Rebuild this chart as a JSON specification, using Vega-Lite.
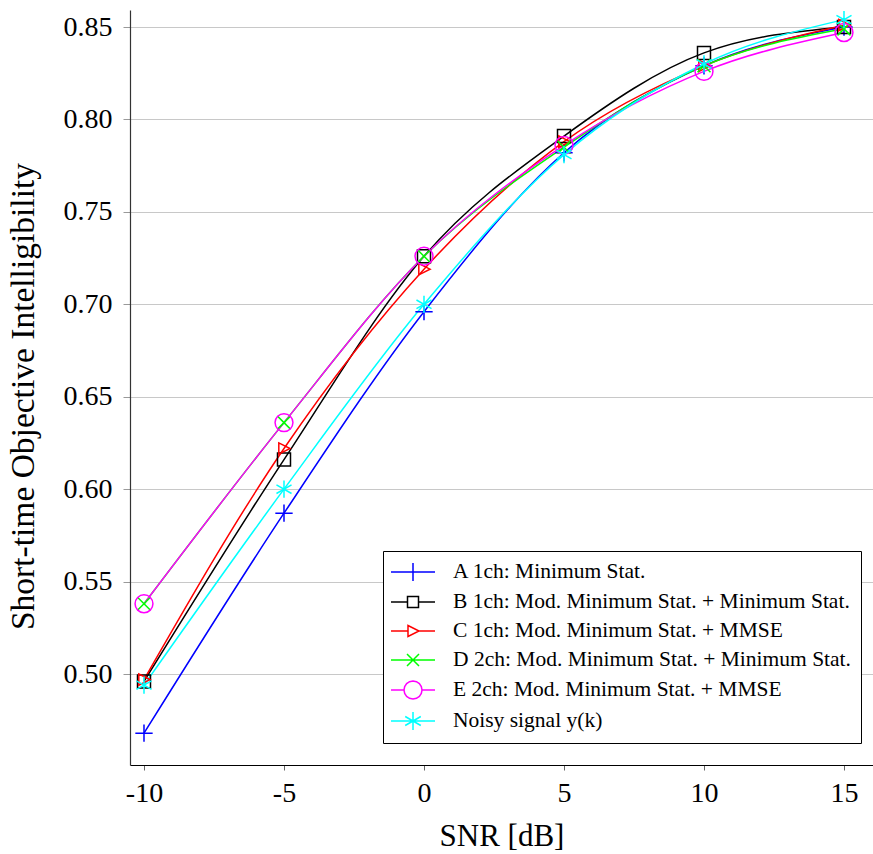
{
  "$schema": "https://vega.github.io/schema/vega-lite/v6.json",
  "width": 743,
  "height": 755,
  "autosize": "none",
  "padding": {"left": 130, "top": 10, "right": 0, "bottom": 89},
  "background": "white",
  "config": {
    "font": "Liberation Serif",
    "view": {"stroke": null}
  },
  "data": {
    "values": [
      {"snr": -10, "series": "A 1ch: Minimum Stat.", "stoi": 0.468},
      {"snr": -5, "series": "A 1ch: Minimum Stat.", "stoi": 0.587},
      {"snr": 0, "series": "A 1ch: Minimum Stat.", "stoi": 0.696},
      {"snr": 5, "series": "A 1ch: Minimum Stat.", "stoi": 0.782},
      {"snr": 10, "series": "A 1ch: Minimum Stat.", "stoi": 0.829},
      {"snr": 15, "series": "A 1ch: Minimum Stat.", "stoi": 0.850},
      {"snr": -10, "series": "B 1ch: Mod. Minimum Stat. + Minimum Stat.", "stoi": 0.496},
      {"snr": -5, "series": "B 1ch: Mod. Minimum Stat. + Minimum Stat.", "stoi": 0.616},
      {"snr": 0, "series": "B 1ch: Mod. Minimum Stat. + Minimum Stat.", "stoi": 0.726},
      {"snr": 5, "series": "B 1ch: Mod. Minimum Stat. + Minimum Stat.", "stoi": 0.791},
      {"snr": 10, "series": "B 1ch: Mod. Minimum Stat. + Minimum Stat.", "stoi": 0.836},
      {"snr": 15, "series": "B 1ch: Mod. Minimum Stat. + Minimum Stat.", "stoi": 0.850},
      {"snr": -10, "series": "C 1ch: Mod. Minimum Stat. + MMSE", "stoi": 0.497},
      {"snr": -5, "series": "C 1ch: Mod. Minimum Stat. + MMSE", "stoi": 0.622},
      {"snr": 0, "series": "C 1ch: Mod. Minimum Stat. + MMSE", "stoi": 0.719},
      {"snr": 5, "series": "C 1ch: Mod. Minimum Stat. + MMSE", "stoi": 0.788},
      {"snr": 10, "series": "C 1ch: Mod. Minimum Stat. + MMSE", "stoi": 0.829},
      {"snr": 15, "series": "C 1ch: Mod. Minimum Stat. + MMSE", "stoi": 0.851},
      {"snr": -10, "series": "D 2ch: Mod. Minimum Stat. + Minimum Stat.", "stoi": 0.538},
      {"snr": -5, "series": "D 2ch: Mod. Minimum Stat. + Minimum Stat.", "stoi": 0.636},
      {"snr": 0, "series": "D 2ch: Mod. Minimum Stat. + Minimum Stat.", "stoi": 0.726},
      {"snr": 5, "series": "D 2ch: Mod. Minimum Stat. + Minimum Stat.", "stoi": 0.785},
      {"snr": 10, "series": "D 2ch: Mod. Minimum Stat. + Minimum Stat.", "stoi": 0.829},
      {"snr": 15, "series": "D 2ch: Mod. Minimum Stat. + Minimum Stat.", "stoi": 0.849},
      {"snr": -10, "series": "E 2ch: Mod. Minimum Stat. + MMSE", "stoi": 0.538},
      {"snr": -5, "series": "E 2ch: Mod. Minimum Stat. + MMSE", "stoi": 0.636},
      {"snr": 0, "series": "E 2ch: Mod. Minimum Stat. + MMSE", "stoi": 0.726},
      {"snr": 5, "series": "E 2ch: Mod. Minimum Stat. + MMSE", "stoi": 0.786},
      {"snr": 10, "series": "E 2ch: Mod. Minimum Stat. + MMSE", "stoi": 0.826},
      {"snr": 15, "series": "E 2ch: Mod. Minimum Stat. + MMSE", "stoi": 0.847},
      {"snr": -10, "series": "Noisy signal y(k)", "stoi": 0.494},
      {"snr": -5, "series": "Noisy signal y(k)", "stoi": 0.600},
      {"snr": 0, "series": "Noisy signal y(k)", "stoi": 0.700},
      {"snr": 5, "series": "Noisy signal y(k)", "stoi": 0.781},
      {"snr": 10, "series": "Noisy signal y(k)", "stoi": 0.830},
      {"snr": 15, "series": "Noisy signal y(k)", "stoi": 0.854}
    ]
  },
  "encoding": {
    "x": {
      "field": "snr", "type": "quantitative",
      "scale": {"domain": [-10.5, 16.036], "nice": false, "zero": false},
      "axis": {
        "title": "SNR [dB]", "values": [-10, -5, 0, 5, 10, 15],
        "labelExpr": "toString(datum.value)",
        "grid": false, "domainColor": "black", "domainWidth": 1.2,
        "tickColor": "#666", "tickSize": 5, "labelFontSize": 28, "labelColor": "black",
        "labelPadding": 9, "titleFontSize": 31, "titleFontWeight": "normal", "titleColor": "black",
        "titlePadding": 14
      }
    },
    "y": {
      "field": "stoi", "type": "quantitative",
      "scale": {"domain": [0.4508, 0.8592], "nice": false, "zero": false},
      "axis": {
        "title": "Short-time Objective Intelligibility",
        "values": [0.5, 0.55, 0.6, 0.65, 0.7, 0.75, 0.8, 0.85],
        "format": ".2f",
        "grid": true, "gridColor": "#c8c8c8", "gridWidth": 1,
        "domainColor": "#333", "domainWidth": 1.2,
        "tickColor": "#999", "tickSize": 7, "labelFontSize": 28, "labelColor": "black",
        "labelPadding": 11, "titleFontSize": 33.5, "titleFontWeight": "normal", "titleColor": "black",
        "titlePadding": 23, "titleY": 386
      }
    }
  },
  "layer": [
    {
      "mark": {"type": "line", "interpolate": "monotone", "strokeWidth": 1.5},
      "encoding": {
        "color": {
          "field": "series", "type": "nominal",
          "scale": {
            "domain": ["A 1ch: Minimum Stat.", "B 1ch: Mod. Minimum Stat. + Minimum Stat.", "C 1ch: Mod. Minimum Stat. + MMSE", "D 2ch: Mod. Minimum Stat. + Minimum Stat.", "E 2ch: Mod. Minimum Stat. + MMSE", "Noisy signal y(k)"],
            "range": ["#0000ff", "#000000", "#ff0000", "#00ff00", "#ff00ff", "#00ffff"]
          },
          "legend": {
            "title": null, "orient": "none", "legendX": 253, "legendY": 541,
            "strokeColor": "black", "fillColor": "white", "padding": 10, "cornerRadius": 0,
            "labelFontSize": 21.5, "labelColor": "black", "labelLimit": 600,
            "symbolSize": 400, "symbolStrokeWidth": 1.5, "labelOffset": 38, "rowPadding": 7,
            "encode": {
              "symbols": {
                "update": {
                  "shape": {"signal": "datum.value === 'A 1ch: Minimum Stat.' ? 'M-1.3,0H3.1M0.9,-0.9V0.9' : datum.value === 'B 1ch: Mod. Minimum Stat. + Minimum Stat.' ? 'M-1.3,0H0.35M1.45,0H3.1M0.35,-0.55H1.45V0.55H0.35Z' : datum.value === 'C 1ch: Mod. Minimum Stat. + MMSE' ? 'M-1.3,0H0.4M1.5,0H3.1M0.4,-0.55L1.5,0L0.4,0.55Z' : datum.value === 'D 2ch: Mod. Minimum Stat. + Minimum Stat.' ? 'M-1.3,0H3.1M0.3,-0.6L1.5,0.6M0.3,0.6L1.5,-0.6' : datum.value === 'E 2ch: Mod. Minimum Stat. + MMSE' ? 'M-1.3,0H0M1.8,0H3.1M1.8,0L1.732,0.344L1.536,0.636L1.244,0.832L0.9,0.9L0.556,0.832L0.264,0.636L0.068,0.344L0,0L0.068,-0.344L0.264,-0.636L0.556,-0.832L0.9,-0.9L1.244,-0.832L1.536,-0.636L1.732,-0.344Z' : 'M-1.3,0H3.1M0.9,-0.9V0.9M0.12,-0.45L1.68,0.45M0.12,0.45L1.68,-0.45'"},
                  "fill": {"value": "transparent"},
                  "strokeWidth": {"value": 1.5},
                  "opacity": {"value": 1}
                }
              }
            }
          }
        }
      }
    },
    {
      "transform": [{"filter": "datum.series === 'A 1ch: Minimum Stat.'"}],
      "mark": {"type": "point", "filled": false, "strokeWidth": 1.5, "opacity": 1, "color": "#0000ff", "shape": "M-1,0H1M0,-1V1", "size": 300}
    },
    {
      "transform": [{"filter": "datum.series === 'B 1ch: Mod. Minimum Stat. + Minimum Stat.'"}],
      "mark": {"type": "point", "filled": false, "strokeWidth": 1.5, "opacity": 1, "color": "#000000", "shape": "M-0.75,-0.75H0.75V0.75H-0.75Z", "size": 300}
    },
    {
      "transform": [{"filter": "datum.series === 'C 1ch: Mod. Minimum Stat. + MMSE'"}],
      "mark": {"type": "point", "filled": false, "strokeWidth": 1.5, "opacity": 1, "color": "#ff0000", "shape": "M-0.6,-0.65L0.7,0L-0.6,0.65Z", "size": 300}
    },
    {
      "transform": [{"filter": "datum.series === 'D 2ch: Mod. Minimum Stat. + Minimum Stat.'"}],
      "mark": {"type": "point", "filled": false, "strokeWidth": 1.5, "opacity": 1, "color": "#00ff00", "shape": "M-0.75,-0.75L0.75,0.75M-0.75,0.75L0.75,-0.75", "size": 300}
    },
    {
      "transform": [{"filter": "datum.series === 'E 2ch: Mod. Minimum Stat. + MMSE'"}],
      "mark": {"type": "point", "filled": false, "strokeWidth": 1.5, "opacity": 1, "color": "#ff00ff", "shape": "circle", "size": 320}
    },
    {
      "transform": [{"filter": "datum.series === 'Noisy signal y(k)'"}],
      "mark": {"type": "point", "filled": false, "strokeWidth": 1.5, "opacity": 1, "color": "#00ffff", "shape": "M0,-1V1M-0.87,-0.5L0.87,0.5M-0.87,0.5L0.87,-0.5", "size": 300}
    }
  ]
}
